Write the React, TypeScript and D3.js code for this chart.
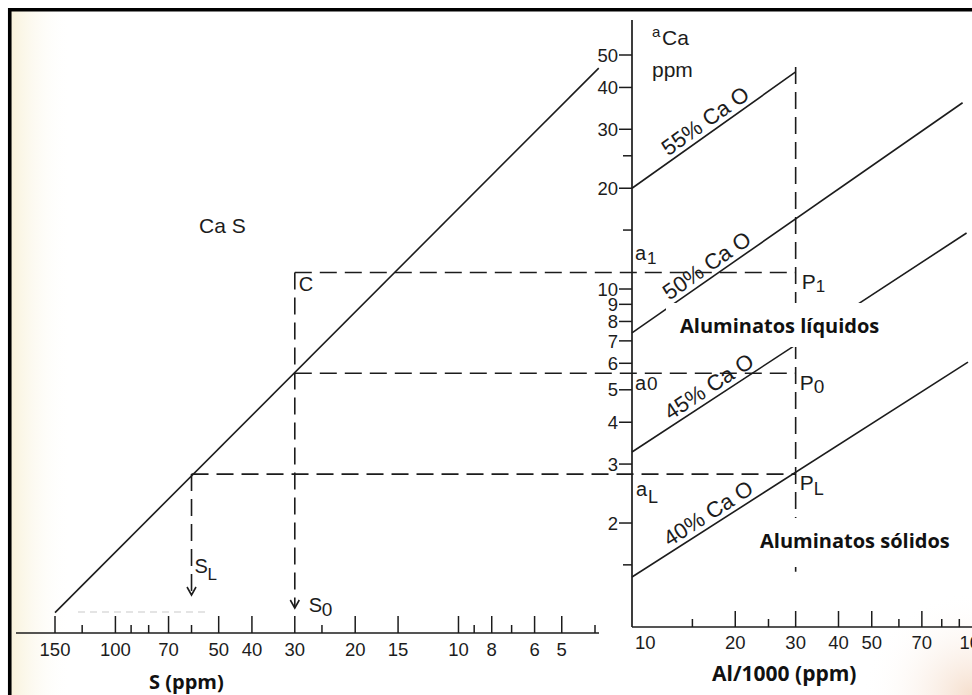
import React from 'react';
import * as d3 from 'd3';

const W = 972;
const H = 695;

// a_Ca axis (ppm), log scale
const aTicksLabeled = [50, 40, 30, 20, 10, 9, 8, 7, 6, 5, 4, 3, 2];
const aTicksMinor = [25, 15, 1.5];
// S axis (ppm), reversed log scale
const sTicksLabeled = [150, 100, 70, 50, 40, 30, 20, 15, 10, 8, 6, 5];
const sTicksMinor = [125, 90, 80, 60, 25, 9, 7, 4];
// Al/1000 axis (ppm), log scale
const alTicksLabeled = [10, 20, 30, 40, 50, 70, 100];
const alTicksMinor = [15, 25, 60, 80, 90];

// CaS line (S ppm -> aCa ppm)
const casS = [150, 3.9];
const casA = [1.08, 45.7];

// CaO iso-lines (Al/1000 -> aCa)
const caoNames = ['55% Ca O', '50% Ca O', '45% Ca O', '40% Ca O'];
const caoAlStart = [10, 10, 10, 10];
const caoAStart = [20, 7.4, 3.26, 1.38];
const caoAlEnd = [30, 92, 94.5, 95.4];
const caoAEnd = [44.5, 36, 14.7, 6.05];
const caoLabelAl = [13.0, 13.1, 13.2, 13.1];

// construction values
const s0 = 30;
const sLv = 60;
const alRef = 30;
const a1 = 11.2;
const a0 = 5.6;
const aLv = 2.8;
const alRefTop = 46;
const alRefBottom = 1.43;

const FONT = "'Liberation Sans', Arial, Helvetica, sans-serif";
const BOLD = "'Open Sans', Lato, sans-serif";
const INK = '#1c1c1c';
const DASH = '17 8';

export default function App() {
  const y = d3.scaleLog().domain([1, 50]).range([623.8, 55]);
  const xS = d3.scaleLog().domain([150, 4]).range([55, 595]);
  const xAl = d3.scaleLog().domain([10, 100]).range([632, 975]);
  const baseL = 633;
  const baseR = 627;
  const axisX = 632;
  const line = d3.line<[number, number]>();

  const casPath = line([
    [xS(casS[0]), y(casA[0])],
    [xS(casS[1]), y(casA[1])],
  ]);

  const cao = caoNames.map((name, i) => {
    const p0: [number, number] = [xAl(caoAlStart[i]), y(caoAStart[i])];
    const p1: [number, number] = [xAl(caoAlEnd[i]), y(caoAEnd[i])];
    const t =
      (Math.log(caoLabelAl[i]) - Math.log(caoAlStart[i])) /
      (Math.log(caoAlEnd[i]) - Math.log(caoAlStart[i]));
    const la = Math.log(caoAStart[i]) + t * (Math.log(caoAEnd[i]) - Math.log(caoAStart[i]));
    const lp = [xAl(caoLabelAl[i]), y(Math.exp(la))];
    const ang = (Math.atan2(p1[1] - p0[1], p1[0] - p0[0]) * 180) / Math.PI;
    return { name, d: line([p0, p1]), lp, ang };
  });

  const xs0 = xS(s0);
  const xsL = xS(sLv);
  const xr = xAl(alRef);
  const tip0 = baseL - 25;
  const tipL = baseL - 38;

  const arrow = (x: number, ty: number) =>
    `M${x - 4.5},${ty - 8} L${x},${ty} L${x + 4.5},${ty - 8}`;

  return (
    <svg
      width={W}
      height={H}
      viewBox={`0 0 ${W} ${H}`}
      style={{ position: 'absolute', left: 0, top: 0, background: '#fff' }}
    >
      <defs>
        <linearGradient id="paperL" x1="0" x2="1" y1="0" y2="0">
          <stop offset="0" stopColor="#f8f1d8" stopOpacity="0.9" />
          <stop offset="1" stopColor="#ffffff" stopOpacity="0" />
        </linearGradient>
        <radialGradient id="paperR" cx="1" cy="1" r="0.9">
          <stop offset="0" stopColor="#f3d6c0" stopOpacity="0.8" />
          <stop offset="1" stopColor="#ffffff" stopOpacity="0" />
        </radialGradient>
      </defs>
      <rect x={0} y={0} width={W} height={H} fill="#fff" />
      <rect x={11} y={11} width={60} height={H - 11} fill="url(#paperL)" />
      <rect x={850} y={580} width={122} height={115} fill="url(#paperR)" />

      {/* frame */}
      <path d={`M9.75,${H} V9.75 H${W}`} fill="none" stroke="#000" strokeWidth={3.6} />

      {/* faint erased text remnant */}
      <line x1={78} x2={205} y1={612} y2={612} stroke="#c9c9c9" strokeWidth={1.2} strokeDasharray="7 5" />

      {/* left S axis */}
      <line x1={16} x2={599} y1={baseL} y2={baseL} stroke={INK} strokeWidth={1.7} />
      {sTicksLabeled.map((v) => (
        <g key={'sl' + v}>
          <line x1={xS(v)} x2={xS(v)} y1={baseL} y2={baseL - 17} stroke={INK} strokeWidth={1.5} />
          <text x={xS(v)} y={baseL + 23} textAnchor="middle" fontFamily={FONT} fontSize={18.5} fill={INK}>
            {v}
          </text>
        </g>
      ))}
      {sTicksMinor.map((v) => (
        <line key={'sm' + v} x1={xS(v)} x2={xS(v)} y1={baseL} y2={baseL - 8} stroke={INK} strokeWidth={1.5} />
      ))}
      <text x={149} y={689} fontFamily={BOLD} fontWeight={700} fontSize={20} fill="#111">
        S (ppm)
      </text>

      {/* right Al axis */}
      <line x1={axisX} x2={W} y1={baseR} y2={baseR} stroke={INK} strokeWidth={1.7} />
      {alTicksLabeled.map((v, i) => (
        <g key={'al' + v}>
          {i > 0 && (
            <line x1={xAl(v)} x2={xAl(v)} y1={baseR} y2={baseR - 16} stroke={INK} strokeWidth={1.5} />
          )}
          <text
            x={i === 0 ? xAl(v) + 3 : xAl(v)}
            y={baseR + 22}
            textAnchor={i === 0 ? 'start' : 'middle'}
            fontFamily={FONT}
            fontSize={18.5}
            fill={INK}
          >
            {v}
          </text>
        </g>
      ))}
      {alTicksMinor.map((v) => (
        <line key={'am' + v} x1={xAl(v)} x2={xAl(v)} y1={baseR} y2={baseR - 8} stroke={INK} strokeWidth={1.5} />
      ))}
      <text x={712} y={681} fontFamily={BOLD} fontWeight={700} fontSize={21} fill="#111">
        Al/1000 (ppm)
      </text>

      {/* a_Ca axis */}
      <line x1={axisX} x2={axisX} y1={20} y2={baseR} stroke={INK} strokeWidth={1.7} />
      {aTicksLabeled.map((v) => (
        <g key={'ya' + v}>
          <line x1={axisX - 13} x2={axisX} y1={y(v)} y2={y(v)} stroke={INK} strokeWidth={1.5} />
          <text
            x={axisX - 14}
            y={y(v)}
            dy="0.36em"
            textAnchor="end"
            fontFamily={FONT}
            fontSize={18.5}
            fill={INK}
          >
            {v}
          </text>
        </g>
      ))}
      {aTicksMinor.map((v) => (
        <line key={'ym' + v} x1={axisX - 9} x2={axisX} y1={y(v)} y2={y(v)} stroke={INK} strokeWidth={1.5} />
      ))}
      <text x={652} y={37} fontFamily={FONT} fontSize={15} fill={INK}>a</text>
      <text x={662} y={45} fontFamily={FONT} fontSize={21} fill={INK}>Ca</text>
      <text x={652} y={77} fontFamily={FONT} fontSize={21} fill={INK}>ppm</text>

      {/* CaS line */}
      <path d={casPath || ''} fill="none" stroke={INK} strokeWidth={1.6} />
      <text x={199} y={233} fontFamily={FONT} fontSize={21} fill={INK}>Ca S</text>

      {/* CaO lines */}
      {cao.map((c) => (
        <g key={c.name}>
          <path d={c.d || ''} fill="none" stroke={INK} strokeWidth={1.6} />
          <text
            transform={`translate(${c.lp[0]},${c.lp[1]}) rotate(${c.ang})`}
            y={-5}
            fontFamily={FONT}
            fontSize={22}
            fill={INK}
          >
            {c.name}
          </text>
        </g>
      ))}

      {/* construction dashed lines */}
      <g fill="none" stroke={INK} strokeWidth={1.6}>
        <line x1={xs0} x2={xr} y1={y(a1)} y2={y(a1)} strokeDasharray={DASH} />
        <line x1={xs0} x2={xr} y1={y(a0)} y2={y(a0)} strokeDasharray={DASH} />
        <line x1={xsL} x2={xr} y1={y(aLv)} y2={y(aLv)} strokeDasharray={DASH} />
        <line x1={xs0} x2={xs0} y1={y(a1)} y2={tip0} strokeDasharray={DASH} />
        <line x1={xsL} x2={xsL} y1={y(aLv)} y2={tipL} strokeDasharray={DASH} />
        <line x1={xr} x2={xr} y1={y(alRefTop)} y2={y(alRefBottom)} strokeDasharray={DASH} />
        <path d={arrow(xs0, tip0)} />
        <path d={arrow(xsL, tipL)} />
      </g>

      {/* point labels */}
      <g fontFamily={FONT} fill={INK}>
        <text x={xs0 + 4} y={y(a1) + 18} fontSize={20}>C</text>
        <text x={axisX + 3} y={y(a1) - 13} fontSize={20}>a</text>
        <text x={axisX + 15} y={y(a1) - 9} fontSize={17}>1</text>
        <text x={axisX + 3} y={y(a0) + 17} fontSize={20}>a</text>
        <text x={axisX + 15} y={y(a0) + 17} fontSize={19}>0</text>
        <text x={axisX + 4} y={y(aLv) + 22} fontSize={20}>a</text>
        <text x={axisX + 16} y={y(aLv) + 29} fontSize={18}>L</text>
        <text x={xr + 6} y={y(a1) + 16} fontSize={21}>P</text>
        <text x={xr + 20} y={y(a1) + 19} fontSize={17}>1</text>
        <text x={xr + 4} y={y(a0) + 17} fontSize={21}>P</text>
        <text x={xr + 18} y={y(a0) + 20} fontSize={19}>0</text>
        <text x={xr + 4} y={y(aLv) + 16} fontSize={21}>P</text>
        <text x={xr + 18} y={y(aLv) + 21} fontSize={18}>L</text>
        <text x={xsL + 3} y={tipL - 22} fontSize={20}>S</text>
        <text x={xsL + 16} y={tipL - 15} fontSize={17}>L</text>
        <text x={xs0 + 14} y={tip0 + 4} fontSize={20}>S</text>
        <text x={xs0 + 27} y={tip0 + 8} fontSize={19}>0</text>
      </g>

      {/* region labels with white boxes */}
      <rect x={666} y={303} width={222} height={44} fill="#fff" />
      <text x={680} y={333} fontFamily={BOLD} fontWeight={700} fontSize={20} fill="#111">
        Aluminatos líquidos
      </text>
      <rect x={755} y={518} width={200} height={42} fill="#fff" />
      <text x={760} y={548} fontFamily={BOLD} fontWeight={700} fontSize={20} fill="#111">
        Aluminatos sólidos
      </text>
    </svg>
  );
}
